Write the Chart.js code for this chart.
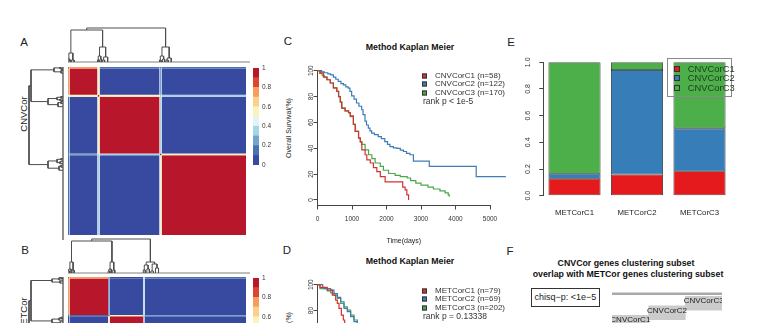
<!DOCTYPE html>
<html>
<head>
<meta charset="utf-8">
<script src="https://cdn.jsdelivr.net/npm/chart.js@4.4.1/dist/chart.umd.min.js"></script>
<style>
html, body { margin: 0; padding: 0; width: 762px; height: 323px; overflow: hidden; background: #fff; }
body { position: relative; font-family: "Liberation Sans", Arial, sans-serif; color: #222; }
canvas { position: absolute; }
.t { position: absolute; white-space: nowrap; line-height: 1; transform: translate(-50%, -50%); }
.rot { transform: translate(-50%, -50%) rotate(-90deg); }
.letter { font-size: 11.5px; }
.main { font-size: 8.8px; font-weight: bold; color: #111; }
.lab { font-size: 7px; color: #222; }
.leg { position: absolute; white-space: nowrap; line-height: 1; font-size: 8px; color: #333; transform: translateY(-50%); }
.sw { position: absolute; box-sizing: border-box; border: 0.6px solid #333; transform: translateY(-50%); }
#chisq { position: absolute; left: 530.7px; top: 288.3px; width: 69.3px; height: 18.4px; box-sizing: border-box;
         border: 1px solid #333; font-size: 9px; line-height: 16.4px; text-align: center; color: #222; }
#legE { position: absolute; left: 667.3px; top: 57.7px; width: 65px; height: 39px; box-sizing: border-box; border: 1px solid #8a8a8a; }
</style>
</head>
<body>
<div class="t letter" style="left:24px;top:43px">A</div>
<div class="t letter" style="left:25px;top:251px">B</div>
<div class="t letter" style="left:288px;top:42px">C</div>
<div class="t letter" style="left:287px;top:251px">D</div>
<div class="t letter" style="left:511px;top:43px">E</div>
<div class="t letter" style="left:510px;top:252px">F</div>

<div class="t rot" style="left:24px;top:114px;font-size:9.5px">CNVCor</div>
<div class="t rot" style="left:24px;top:315px;font-size:9.5px">METCor</div>

<div class="t main" style="left:410px;top:47px">Method Kaplan Meier</div>
<div class="t main" style="left:410px;top:261px">Method Kaplan Meier</div>
<div class="t lab rot" style="left:288px;top:128px">Overall Survival(%)</div>
<div class="t lab rot" style="left:288px;top:342px">Overall Survival(%)</div>

<div class="t main" style="left:626px;top:263px">CNVCor genes clustering subset</div>
<div class="t main" style="left:628px;top:273.5px">overlap with METCor genes clustering subset</div>
<div id="chisq">chisq−p: &lt;1e−5</div>

<canvas id="hmA" width="178" height="168" style="left:68px;top:67px"></canvas>
<canvas id="hmB" width="178" height="168" style="left:68px;top:277px"></canvas>
<canvas id="dtA" width="182" height="38" style="left:68px;top:25px"></canvas>
<canvas id="dtB" width="182" height="38" style="left:68px;top:236px"></canvas>
<canvas id="dlA" width="38" height="173" style="left:26px;top:67px"></canvas>
<canvas id="dlB" width="38" height="173" style="left:26px;top:277px"></canvas>
<canvas id="cbA" width="22" height="111" style="left:253px;top:61px"></canvas>
<canvas id="cbB" width="22" height="111" style="left:253px;top:271px"></canvas>
<canvas id="kmC" width="220" height="182" style="left:290px;top:64px"></canvas>
<canvas id="kmD" width="220" height="182" style="left:290px;top:278px"></canvas>
<canvas id="barE" width="225" height="169" style="left:515px;top:52px"></canvas>
<canvas id="ovF" width="110" height="38" style="left:612px;top:289px"></canvas>
<div id="legE"></div>

<script>
// clusters
const cnvNames = ['CNVCorC1', 'CNVCorC2', 'CNVCorC3'];
const cnvSizes = [58, 122, 170];
const metNames = ['METCorC1', 'METCorC2', 'METCorC3'];
const metSizes = [79, 69, 202];

// consensus heatmaps: groups = [edge1, core1, edge2, core2, edge3, core3]
const cnvGroupSizes = [3, 55, 4, 118, 4, 166];
const cnvConsensus = [
    [0.85, 0.75, 0.45, 0.15, 0.15, 0.15],
    [0.75, 0.97, 0.50, 0.05, 0.25, 0.05],
    [0.45, 0.50, 0.90, 0.55, 0.30, 0.30],
    [0.15, 0.05, 0.55, 0.97, 0.30, 0.05],
    [0.15, 0.25, 0.30, 0.30, 0.90, 0.55],
    [0.15, 0.05, 0.30, 0.05, 0.55, 0.97]
];
const metGroupSizes = [3, 76, 3, 66, 3, 199];
const metConsensus = [
    [0.85, 0.70, 0.10, 0.05, 0.30, 0.10],
    [0.70, 0.97, 0.10, 0.05, 0.30, 0.05],
    [0.10, 0.10, 0.90, 0.50, 0.25, 0.25],
    [0.05, 0.05, 0.50, 0.97, 0.25, 0.05],
    [0.30, 0.30, 0.25, 0.25, 0.90, 0.50],
    [0.10, 0.05, 0.25, 0.05, 0.50, 0.97]
];
const heatColors = ['#384A9F', '#4A72B2', '#74A4CE', '#A9D3E6', '#E3F2F2',
                    '#FBF3BE', '#FDD08A', '#F69E5E', '#DD4432', '#B8162B'];
const colorBreaks = [0, 0.1, 0.2, 0.3, 0.4, 0.5, 0.6, 0.7, 0.8, 0.9, 1];
const colorTicks = [0, 0.2, 0.4, 0.6, 0.8, 1];

// dendrograms: [left, right, height], leaves = sample position
const cnvTree = [
    [[[0, [2, 5, 1.5], 3], [7, 12, 2], 9],
     [[[58, 61, 2], [63, 66, 3], 6], [[68, 72, 2], 78, 5], 15], 32],
    [[[180, 183, 2], [186, 190, 3], 6], [[193, 197, 2], 203, 4], 15], 34];
const metTree = [
    [[[[0, 3, 2], 6, 4], [8, 12, 3], 11],
     [[[79, 82, 2], 85, 4], [88, 92, 3], 11], 32],
    [[[148, 152, 3], [155, 160, 4], 8], [[163, 168, 2], [172, 178, 5], 9], 11], 34];

// Kaplan Meier, [days, survival %]
const kmXTicks = [0, 1000, 2000, 3000, 4000, 5000];
const kmYTicks = [0, 20, 40, 60, 80, 100];
const kmColors = ['#D1332F', '#3D7CB7', '#4DA64A'];
const kmCnvC1 = [[0,100],[80,98.3],[170,95],[270,93],[370,90.5],[460,86.6],[560,84],[610,80],[660,76],[700,71],
    [800,69],[900,67.5],[950,65],[1040,58.5],[1090,53],[1190,47.8],[1240,45],[1285,38.7],[1380,35],[1430,31],
    [1530,28.6],[1620,25],[1720,22],[1820,18],[1960,14],[2400,14],[2470,10],[2540,7.8],[2590,4],[2640,0]];
const kmCnvC2 = [[0,100],[120,99.2],[200,98.4],[300,97.5],[380,96.7],[460,95.1],[530,93.4],[600,91.7],[680,90],
    [750,89],[820,87.5],[890,86.6],[940,84],[990,80.5],[1060,78],[1130,75],[1200,72.5],[1280,69.8],[1320,66],
    [1377,61],[1420,58],[1473,55.6],[1520,53.5],[1570,51.7],[1650,50.5],[1760,49],[1850,47.5],[1950,45.2],
    [2030,43],[2100,41.3],[2200,40.3],[2300,40],[2400,38.5],[2490,37.5],[2580,36],[2680,35],[2780,30],
    [3240,26],[4600,18],[5460,18]];
const kmCnvC3 = [[0,100],[60,98],[130,96.5],[200,95],[280,93],[370,90.5],[460,87],[560,84],[615,80],[660,75.5],
    [710,71],[800,69],[900,67.5],[950,64.5],[1040,58.5],[1100,53],[1190,48],[1240,45],[1285,43],[1380,38.7],
    [1480,35],[1575,32],[1670,28.6],[1820,26],[1910,23],[2060,20.5],[2250,19],[2400,18],[2600,17],[2700,15],
    [2850,13],[3000,11.5],[3200,10],[3360,8.5],[3550,7],[3700,5.5],[3790,4],[3820,2.5]];
const kmMetC1 = [[0,100],[72,98],[284,95.8],[430,91.9],[527,88],[575,85.5],[623,81.7],[691,76.5],[749,72.7],
    [787,68.8],[850,62],[950,55]];
const kmMetC2 = [[0,100],[150,98],[188,97],[382,95.8],[478,93.2],[575,90.2],[672,86.8],[768,81.7],[865,79.1],
    [961,75.3],[1058,71.4],[1150,67],[1250,62]];
const kmMetC3 = [[0,100],[72,97],[284,95.2],[382,93.7],[478,91.9],[575,89.4],[672,85.5],[768,82.9],[865,80.4],
    [961,76.5],[1058,72.7],[1155,68.8],[1250,64]];
const cnvRankP = 'rank p < 1e-5';
const metRankP = 'rank p = 0.13338';

// E: CNVCor cluster counts inside each METCor cluster
const cnvC1InMet = [10, 11, 37];
const cnvC2InMet = [3, 54, 65];
const cnvC3InMet = [66, 4, 100];
const barColors = ['#E41A1C', '#377EB8', '#4DAF4A'];
const barYTicks = [0, 0.2, 0.4, 0.6, 0.8, 1];

// F: overlap ribbons
const ovRows = ['', 'CNVCorC3', 'CNVCorC2', 'CNVCorC1'];
const ovSpan = [[0, 3], null, null, null];
const ovBlocks = [null, [2, 3], [1, 2], [0, 1]];

Chart.defaults.font.family = '"Liberation Sans", Arial, sans-serif';
Chart.defaults.color = '#333';
Chart.defaults.animation = false;

const noPlugins = { legend: { display: false }, tooltip: { enabled: false } };

function heatColor(v) {
    return heatColors[Math.min(heatColors.length - 1, Math.floor(v * heatColors.length))];
}

function renderHeatmap(id, sizes, matrix) {
    const edges = [0];
    sizes.forEach(s => edges.push(edges[edges.length - 1] + s));
    const total = edges[edges.length - 1];
    const datasets = [];
    for (let r = 0; r < sizes.length; r++) {
        for (let c = 0; c < sizes.length; c++) {
            datasets.push({
                data: [{ x: edges[c], y: edges[r] }, { x: edges[c + 1], y: edges[r] }],
                fill: { value: edges[r + 1] },
                backgroundColor: heatColor(matrix[r][c]),
                borderWidth: 0,
                pointRadius: 0
            });
        }
    }
    new Chart(document.getElementById(id), {
        type: 'line',
        data: { datasets },
        options: {
            responsive: false, events: [],
            plugins: noPlugins,
            layout: { padding: 0 },
            scales: {
                x: { type: 'linear', display: false, min: 0, max: total },
                y: { type: 'linear', display: false, min: 0, max: total, reverse: true }
            }
        }
    });
}

function treePos(n) { return typeof n === 'number' ? n : (treePos(n[0]) + treePos(n[1])) / 2; }
function treeHeight(n) { return typeof n === 'number' ? 0 : n[2]; }
function treePath(n, out) {
    if (typeof n === 'number') return out;
    const pl = treePos(n[0]), pr = treePos(n[1]);
    out.push([pl, treeHeight(n[0])], [pl, n[2]], [pr, n[2]], [pr, treeHeight(n[1])], null);
    treePath(n[0], out);
    treePath(n[1], out);
    return out;
}

function renderDendro(id, tree, side, total) {
    const canvas = document.getElementById(id);
    const pxPerSample = 178 / total;
    const top = side === 'top';
    const posMax = (top ? canvas.width : canvas.height) / pxPerSample;
    const path = treePath(tree, []);
    const lines = path.map(p => p ? (top ? { x: p[0], y: p[1] } : { x: p[1], y: p[0] }) : { x: 0, y: null });
    const base = top ? [{ x: 0, y: 0 }, { x: posMax, y: 0 }] : [{ x: 0, y: 0 }, { x: 0, y: posMax }];
    const posScale = { type: 'linear', display: false, min: 0, max: posMax };
    const hScale = { type: 'linear', display: false, min: -1, max: 37 };
    new Chart(canvas, {
        type: 'line',
        data: {
            datasets: [
                { data: lines, borderColor: '#4d4d4d', borderWidth: 1, pointRadius: 0, spanGaps: false, clip: false },
                { data: base, borderColor: '#808080', borderWidth: 1, pointRadius: 0, clip: false }
            ]
        },
        options: {
            responsive: false, events: [],
            plugins: noPlugins,
            layout: { padding: 0 },
            scales: top
                ? { x: posScale, y: hScale }
                : { x: Object.assign({}, hScale, { reverse: true }), y: Object.assign({}, posScale, { reverse: true }) }
        }
    });
}

function renderColorbar(id) {
    new Chart(document.getElementById(id), {
        type: 'bar',
        data: {
            labels: [''],
            datasets: heatColors.map((c, i) => ({
                data: [[colorBreaks[i], colorBreaks[i + 1]]],
                backgroundColor: c,
                barPercentage: 1, categoryPercentage: 1, grouped: false
            }))
        },
        options: {
            responsive: false, events: [],
            plugins: noPlugins,
            layout: { padding: { top: 5, bottom: 5, left: 0, right: 0 } },
            scales: {
                x: { display: false },
                y: {
                    position: 'right', min: 0, max: 1,
                    afterBuildTicks: s => { s.ticks = colorTicks.map(v => ({ value: v })); },
                    afterFit: s => { s.width = 16; },
                    grid: { display: false, drawTicks: false },
                    border: { display: false },
                    ticks: { font: { size: 6.5 }, padding: 3, color: '#333', callback: v => String(v) }
                }
            }
        }
    });
}

function renderKM(id, series) {
    const axisGrid = { drawOnChartArea: false, tickLength: 4, color: '#444' };
    new Chart(document.getElementById(id), {
        type: 'line',
        data: {
            datasets: series.map((s, i) => ({
                data: s.map(p => ({ x: p[0], y: p[1] })),
                borderColor: kmColors[i],
                borderWidth: 1.2,
                pointRadius: 0,
                stepped: true,
                clip: false
            }))
        },
        options: {
            responsive: false, events: [],
            plugins: noPlugins,
            layout: { padding: { top: 6.7, right: 20, left: 0, bottom: 0 } },
            scales: {
                x: {
                    type: 'linear', min: 0, max: 5000,
                    afterBuildTicks: s => { s.ticks = kmXTicks.map(v => ({ value: v })); },
                    afterFit: s => { s.height = 40.5; },
                    grid: axisGrid,
                    border: { color: '#444' },
                    title: { display: true, text: 'Time(days)', color: '#222', font: { size: 7 },
                             padding: { top: 0, bottom: 0.8 } },
                    ticks: { font: { size: 6.5 }, padding: 6, color: '#333', maxRotation: 0, callback: v => String(v) }
                },
                y: {
                    type: 'linear', min: -4.26, max: 100,
                    afterBuildTicks: s => { s.ticks = kmYTicks.map(v => ({ value: v })); },
                    afterFit: s => { s.width = 27.5; },
                    grid: axisGrid,
                    border: { color: '#444' },
                    ticks: { font: { size: 6.5 }, color: '#333', minRotation: 90, maxRotation: 90,
                             crossAlign: 'center', padding: -3.5, callback: v => String(v) }
                }
            }
        }
    });
}

function addKMLegend(names, sizes, rankText, top) {
    const step = 8.5;
    names.forEach((n, i) => {
        const y = top + i * step;
        const sw = document.createElement('div');
        sw.className = 'sw';
        sw.style.cssText = `left:421.7px;top:${y}px;width:5px;height:5px;background:${kmColors[i]}`;
        document.body.appendChild(sw);
        const t = document.createElement('div');
        t.className = 'leg';
        t.style.cssText = `left:435px;top:${y}px`;
        t.textContent = `${n} (n=${sizes[i]})`;
        document.body.appendChild(t);
    });
    const r = document.createElement('div');
    r.className = 'leg';
    r.style.cssText = `left:423px;top:${top + names.length * step}px;font-size:8.5px`;
    r.textContent = rankText;
    document.body.appendChild(r);
}

function renderBars() {
    const counts = [cnvC1InMet, cnvC2InMet, cnvC3InMet];
    new Chart(document.getElementById('barE'), {
        type: 'bar',
        data: {
            labels: metNames,
            datasets: cnvNames.map((n, i) => ({
                label: n,
                data: counts[i].map((c, j) => c / metSizes[j]),
                backgroundColor: barColors[i],
                borderColor: '#1e1e1e',
                borderWidth: 0.8,
                borderSkipped: false,
                barPercentage: 0.833,
                categoryPercentage: 1
            }))
        },
        options: {
            responsive: false, events: [],
            plugins: noPlugins,
            layout: { padding: { top: 6.3, right: 9.25, left: 0, bottom: 0 } },
            scales: {
                x: {
                    stacked: true,
                    afterFit: s => { s.height = 25.3; },
                    grid: { display: false, drawTicks: false },
                    border: { display: false },
                    ticks: { font: { size: 7.8 }, padding: 12.3, color: '#222' }
                },
                y: {
                    stacked: true, min: 0, max: 1,
                    afterBuildTicks: s => { s.ticks = barYTicks.map(v => ({ value: v })); },
                    afterFit: s => { s.width = 28.25; },
                    grid: { drawOnChartArea: false, tickLength: 4, color: '#444' },
                    border: { color: '#444' },
                    ticks: { font: { size: 7 }, color: '#333', minRotation: 90, maxRotation: 90,
                             crossAlign: 'center', padding: 6.1, callback: v => v.toFixed(1) }
                }
            }
        }
    });

    const box = document.getElementById('legE');
    cnvNames.forEach((n, i) => {
        const y = 10 + i * 9.5;
        const sw = document.createElement('div');
        sw.className = 'sw';
        sw.style.cssText = `left:6px;top:${y}px;width:6px;height:6px;background:${barColors[i]}`;
        box.appendChild(sw);
        const t = document.createElement('div');
        t.className = 'leg';
        t.style.cssText = `left:19.5px;top:${y}px;font-size:9.4px;color:#1f3a1f`;
        t.textContent = n;
        box.appendChild(t);
    });
}

const ribbonLabels = {
    id: 'ribbonLabels',
    afterDatasetsDraw(chart) {
        const ctx = chart.ctx;
        const meta = chart.getDatasetMeta(1);
        ctx.save();
        ctx.font = '8px "Liberation Sans", Arial, sans-serif';
        ctx.fillStyle = '#222';
        ctx.textAlign = 'center';
        ctx.textBaseline = 'middle';
        meta.data.forEach((bar, i) => {
            if (!ovBlocks[i]) return;
            ctx.fillText(ovRows[i], (bar.x + bar.base) / 2, bar.y - 2);
        });
        ctx.restore();
    }
};

function renderOverlap() {
    new Chart(document.getElementById('ovF'), {
        type: 'bar',
        data: {
            labels: ovRows,
            datasets: [
                { data: ovSpan, backgroundColor: '#a9a9a9', barThickness: 2, grouped: false },
                { data: ovBlocks, backgroundColor: '#cbcbcb', barThickness: 14, grouped: false }
            ]
        },
        options: {
            indexAxis: 'y',
            responsive: false, events: [],
            plugins: noPlugins,
            layout: { padding: 0 },
            scales: {
                x: { type: 'linear', display: false, min: 0, max: 3 },
                y: { display: false }
            }
        },
        plugins: [ribbonLabels]
    });
}

renderHeatmap('hmA', cnvGroupSizes, cnvConsensus);
renderHeatmap('hmB', metGroupSizes, metConsensus);
renderDendro('dtA', cnvTree, 'top', 350);
renderDendro('dlA', cnvTree, 'left', 350);
renderDendro('dtB', metTree, 'top', 350);
renderDendro('dlB', metTree, 'left', 350);
renderColorbar('cbA');
renderColorbar('cbB');
renderKM('kmC', [kmCnvC1, kmCnvC2, kmCnvC3]);
renderKM('kmD', [kmMetC1, kmMetC2, kmMetC3]);
addKMLegend(cnvNames, cnvSizes, cnvRankP, 75.7);
addKMLegend(metNames, metSizes, metRankP, 290.7);
renderBars();
renderOverlap();
</script>
</body>
</html>
